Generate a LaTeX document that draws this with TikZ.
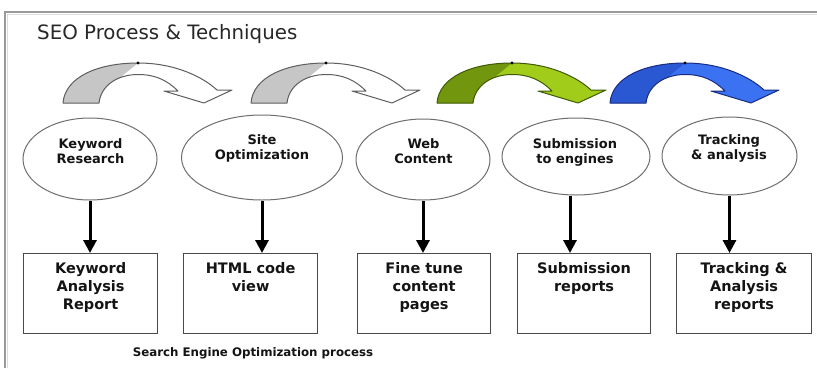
\documentclass[tikz,border=0pt]{standalone}
\usepackage{fontspec}
\setmainfont{DejaVu Sans}
\usetikzlibrary{shapes.geometric,arrows.meta}
\definecolor{framec}{HTML}{9A9A9A}
\definecolor{ovalc}{HTML}{6E6E6E}
\definecolor{boxc}{HTML}{4A4A4A}
\definecolor{textc}{HTML}{141414}
\definecolor{titlec}{HTML}{282828}
\definecolor{grayD}{HTML}{C6C6C6}
\definecolor{grayL}{HTML}{FFFFFF}
\definecolor{grayO}{HTML}{5E5E5E}
\definecolor{greenD}{HTML}{73960F}
\definecolor{greenL}{HTML}{A2CC1A}
\definecolor{greenO}{HTML}{3E5A05}
\definecolor{blueD}{HTML}{2A58D2}
\definecolor{blueL}{HTML}{3A72F2}
\definecolor{blueO}{HTML}{1A2C80}
\newcommand\seoarrow[5]{%
\begin{scope}[shift={(#1,#2)}]
\fill[#4] (0,0) .. controls (2,-26) and (35,-40) .. (75,-40) .. controls (112,-40) and (140,-26) .. (154,-13) -- (169,-13) -- (141,0) -- (101,-12) -- (115,-12) .. controls (104,-23) and (92,-28.5) .. (75,-28.5) .. controls (55,-28.5) and (38,-18) .. (36,0) -- cycle;
\begin{scope}
\clip (0,0) .. controls (2,-26) and (35,-40) .. (75,-40) .. controls (112,-40) and (140,-26) .. (154,-13) -- (169,-13) -- (141,0) -- (101,-12) -- (115,-12) .. controls (104,-23) and (92,-28.5) .. (75,-28.5) .. controls (55,-28.5) and (38,-18) .. (36,0) -- cycle;
\fill[#3] (-5,5) -- (-5,-45) -- (75,-45) -- (75,-40) -- (59,-27) -- (45,5) -- cycle;
\end{scope}
\draw[#5,line width=1pt,line join=round] (0,0) .. controls (2,-26) and (35,-40) .. (75,-40) .. controls (112,-40) and (140,-26) .. (154,-13) -- (169,-13) -- (141,0) -- (101,-12) -- (115,-12) .. controls (104,-23) and (92,-28.5) .. (75,-28.5) .. controls (55,-28.5) and (38,-18) .. (36,0) -- cycle;
\fill[black] (75,-40) circle (1.6);
\end{scope}}
\begin{document}
\begin{tikzpicture}[x=1pt,y=-1pt,
  oval/.style={ellipse,draw=ovalc,line width=1pt,inner sep=0pt,fill=white},
  box/.style={rectangle,draw=boxc,line width=1.2pt,inner sep=0pt,anchor=north west},
  ovaltext/.style={font=\fontsize{13}{15}\selectfont\bfseries,align=center,inner sep=0pt,text=textc},
  boxtext/.style={font=\fontsize{14.5}{18}\selectfont\bfseries,align=center,inner sep=0pt,anchor=north,text=textc},
  down/.style={line width=3pt,-{Triangle[length=13pt,width=13pt]}}
]
\useasboundingbox (0,0) rectangle (817,368);
\fill[white] (0,0) rectangle (817,368);
% frame
\draw[framec,line width=1.6pt] (5,368) -- (5,12) -- (817,12);
\draw[framec!35,line width=1pt] (7,368) -- (7,14.5) -- (817,14.5);
% title
\node[anchor=base west,font=\fontsize{19.8}{23}\selectfont,inner sep=0pt,text=titlec] (title) at (37,39) {SEO Process \& Techniques};
% curved arrows
\seoarrow{63}{103}{grayD}{grayL}{grayO}
\seoarrow{251}{103}{grayD}{grayL}{grayO}
\seoarrow{437}{103}{greenD}{greenL}{greenO}
\seoarrow{610}{103}{blueD}{blueL}{blueO}
% ellipses
\node[oval,minimum width=134pt,minimum height=82pt] (e1) at (90,159) {};
\node[oval,minimum width=161pt,minimum height=85pt] (e2) at (262,157.5) {};
\node[oval,minimum width=134pt,minimum height=81pt] (e3) at (423,159.5) {};
\node[oval,minimum width=148pt,minimum height=77pt] (e4) at (576,156.5) {};
\node[oval,minimum width=135pt,minimum height=78pt] (e5) at (729.5,156) {};
\node[ovaltext] (t1) at (90.5,151.5) {Keyword\\Research};
\node[ovaltext] (t2) at (262,148.5) {Site\\Optimization};
\node[ovaltext] (t3) at (423.5,151.5) {Web\\Content};
\node[ovaltext] (t4) at (575,152) {Submission\\to engines};
\node[ovaltext] (t5) at (729,148.5) {Tracking\\\& analysis};
% boxes
\node[box,minimum width=134pt,minimum height=80pt] (b1) at (23,253) {};
\node[box,minimum width=134pt,minimum height=80pt] (b2) at (183,253) {};
\node[box,minimum width=133pt,minimum height=80pt] (b3) at (357,253) {};
\node[box,minimum width=133pt,minimum height=80pt] (b4) at (517,253) {};
\node[box,minimum width=135pt,minimum height=80pt] (b5) at (676,253) {};
\node[boxtext] (bt1) at ([yshift=-9pt]b1.north) {Keyword\\Analysis\\Report};
\node[boxtext] (bt2) at ([yshift=-9pt]b2.north) {HTML code\\view};
\node[boxtext] (bt3) at ([yshift=-9pt]b3.north) {Fine tune\\content\\pages};
\node[boxtext] (bt4) at ([yshift=-9pt]b4.north) {Submission\\reports};
\node[boxtext] (bt5) at ([yshift=-9pt]b5.north) {Tracking \&\\Analysis\\reports};
% down arrows
\draw[down] (e1.south) -- (e1.south |- b1.north);
\draw[down] (e2.south) -- (e2.south |- b2.north);
\draw[down] (e3.south) -- (e3.south |- b3.north);
\draw[down] ([xshift=-6pt]e4.south) -- ([xshift=-6pt]e4.south |- b4.north);
\draw[down] (e5.south) -- (e5.south |- b5.north);
% caption
\node[font=\fontsize{11.8}{14}\selectfont\bfseries,inner sep=0pt,text=textc] (cap) at (253,353) {Search Engine Optimization process};
\end{tikzpicture}
\end{document}
